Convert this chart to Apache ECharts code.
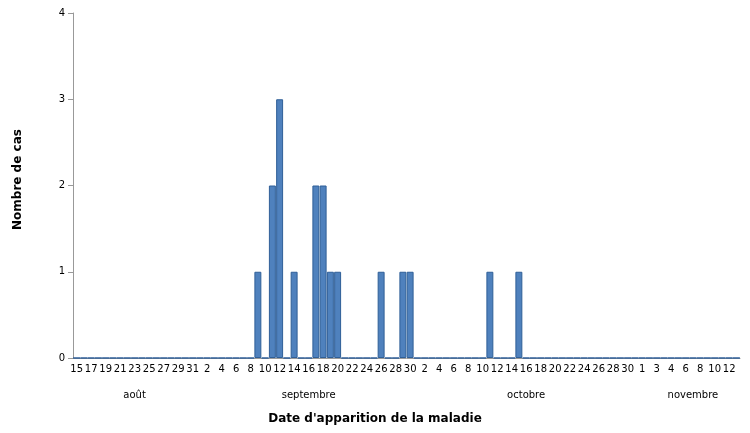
<!DOCTYPE html><html><head><meta charset="utf-8"><script src="https://cdn.jsdelivr.net/npm/echarts@6/dist/echarts.min.js"></script></head><body style="margin:0"><div id="c" style="width:750px;height:433px"></div><script>
const dayLabels = ['15','','17','','19','','21','','23','','25','','27','','29','','31',
'','2','','4','','6','','8','','10','','12','','14','','16','','18','','20','','22','','24','','26','','28','','30',
'','2','','4','','6','','8','','10','','12','','14','','16','','18','','20','','22','','24','','26','','28','','30','',
'1','','3','','4','','6','','8','','10','','12',''];
const cases = new Array(92).fill(0);
const caseDates = [[25,1],[27,2],[28,3],[30,1],[33,2],[34,2],[35,1],[36,1],[42,1],[45,1],[46,1],[57,1],[61,1]];
caseDates.forEach(([i,v])=>cases[i]=v);
const months = ['août','septembre','octobre','novembre'];
const monthStart = [0,17,47,78,92];
const monthMid = {8:0,32:1,62:2,85:3};
const cats = dayLabels.map((_,i)=>i);
const ch = echarts.init(document.getElementById('c'));
const ax = '#999';
ch.setOption({
 animation:false,
 grid:{left:73,right:10,top:13,bottom:75},
 xAxis:[{type:'category',data:cats,axisLine:{lineStyle:{color:ax}},axisTick:{interval:0,length:17,lineStyle:{color:ax}},
  axisLabel:{interval:0,formatter:(v,i)=>dayLabels[i],fontSize:10,color:'#000',margin:6,fontFamily:'DejaVu Sans'}},
  {type:'category',data:cats,position:'bottom',axisLine:{show:false},
  axisTick:{interval:(i)=>monthStart.includes(i),length:47,lineStyle:{color:ax}},
  axisLabel:{interval:(i)=>i in monthMid,formatter:(v,i)=>months[monthMid[i]]??'',fontSize:10,color:'#000',margin:32,fontFamily:'DejaVu Sans'}}],
 yAxis:{type:'value',min:0,max:4,interval:1,splitLine:{show:false},axisLine:{show:true,lineStyle:{color:ax}},axisTick:{show:true,length:5,lineStyle:{color:ax}},axisLabel:{fontSize:10,color:'#000',fontFamily:'DejaVu Sans'}},
 graphic:[{type:'text',left:'center',top:413,style:{text:"Date d'apparition de la maladie",font:'bold 12px DejaVu Sans',fill:'#000'}},
  {type:'text',x:12,y:230,rotation:Math.PI/2,style:{text:'Nombre de cas',font:'bold 12px DejaVu Sans',fill:'#000'}}],
 series:[{type:'bar',data:cases,barCategoryGap:'4%',itemStyle:{color:'#4f81bd',borderColor:'#2f5f98',borderWidth:1}}]
});
</script></body></html>
